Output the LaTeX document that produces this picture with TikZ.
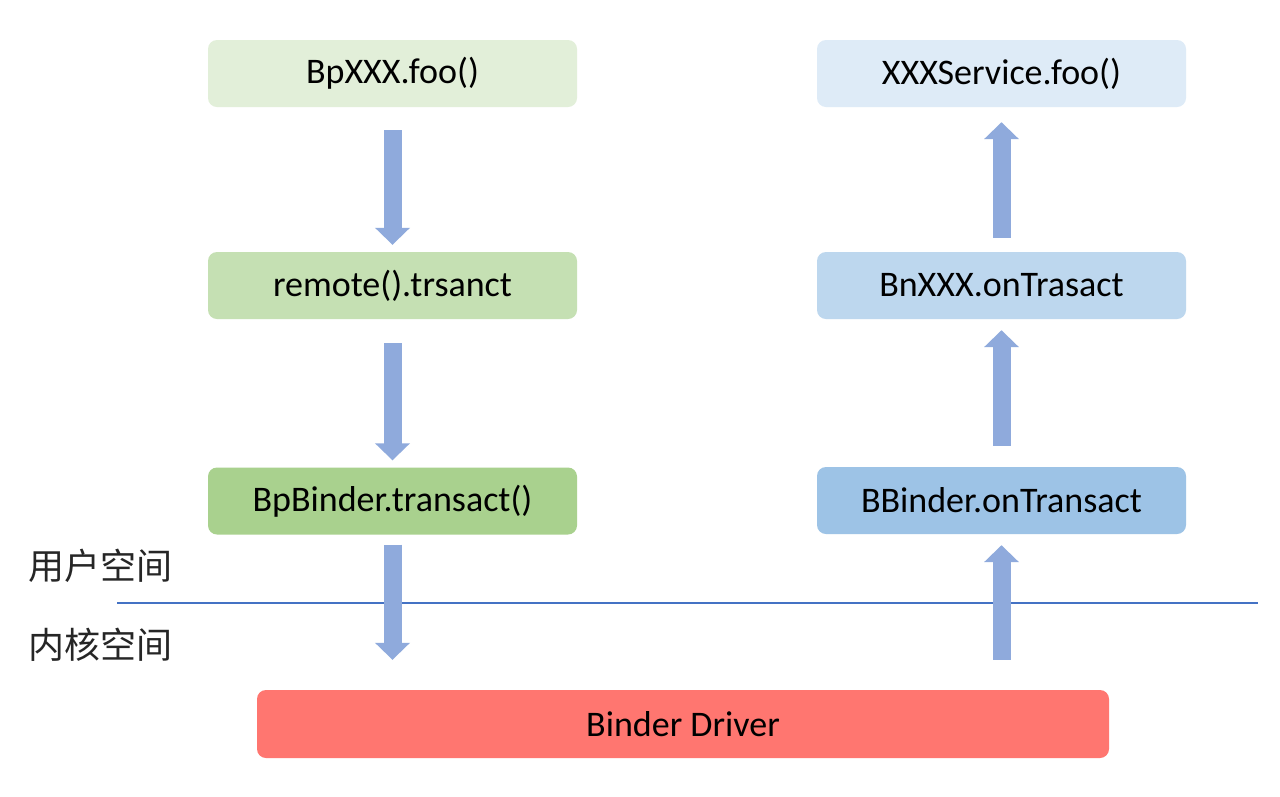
\documentclass[tikz,border=0pt]{standalone}
\usepackage{fontspec}
\setmainfont{Carlito}
\newfontfamily\cjk{Noto Sans CJK SC}
\usetikzlibrary{arrows.meta}
\definecolor{gA}{HTML}{E2EFD9}
\definecolor{gB}{HTML}{C5E0B3}
\definecolor{gC}{HTML}{A9D18E}
\definecolor{bA}{HTML}{DEEBF7}
\definecolor{bB}{HTML}{BDD7EE}
\definecolor{bC}{HTML}{9DC3E6}
\definecolor{drv}{HTML}{FF7670}
\definecolor{flow}{HTML}{8FAADC}
\definecolor{sep}{HTML}{4472C4}
\begin{document}
\begin{tikzpicture}[x=1pt,y=-1pt,
  box/.style={rounded corners=9pt, minimum width=369pt, minimum height=67pt,
    inner sep=0pt, font=\fontsize{36}{40}\selectfont, text=black},
  flowarrow/.style={draw=flow, line width=18pt,
    -{Triangle[width=34pt,length=17pt]}},
  zone/.style={font=\cjk\fontsize{36}{40}\selectfont, text=black!85}]
\useasboundingbox[fill=white] (0,0) rectangle (1280,796);

% client side
\node[box, fill=gA] (bp)   at (392.5,73.5)  {BpXXX.foo()};
\node[box, fill=gB] (rem)  at (392.5,285.5) {remote().trsanct};
\node[box, fill=gC] (bpb)  at (392.5,501)   {BpBinder.transact()};

% service side
\node[box, fill=bA] (svc)  at (1001.5,73.5)  {XXXService.foo()};
\node[box, fill=bB] (bn)   at (1001.5,285.5) {BnXXX.onTrasact};
\node[box, fill=bC] (bb)   at (1001.5,500.5) {BBinder.onTransact};

% kernel driver
\node[box, fill=drv, minimum width=852pt, minimum height=68pt] (drv) at (683,724) {Binder Driver};

% user / kernel boundary
\coordinate (sepL) at (117,603);
\coordinate (sepR) at (1258,603);
\draw[sep, line width=1.3pt] (sepL) -- (sepR);
\node[zone] (user) at (100,566) {用户空间};
\node[zone] (kern) at (100,645) {内核空间};

% call flow
\draw[flowarrow, shorten <=23pt, shorten >=7pt] (bp.south) -- (rem.north);
\draw[flowarrow, shorten <=24pt, shorten >=7pt] (rem.south) -- (bpb.north);
\draw[flowarrow, shorten <=10pt, shorten >=30pt] (bpb.south) -- (bpb.south |- drv.north);
\draw[flowarrow, shorten <=30pt, shorten >=11pt] (bb.south |- drv.north) -- (bb.south);
\draw[flowarrow, shorten <=21pt, shorten >=11pt] (bb.north) -- (bn.south);
\draw[flowarrow, shorten <=14pt, shorten >=15pt] (bn.north) -- (svc.south);
\end{tikzpicture}
\end{document}
